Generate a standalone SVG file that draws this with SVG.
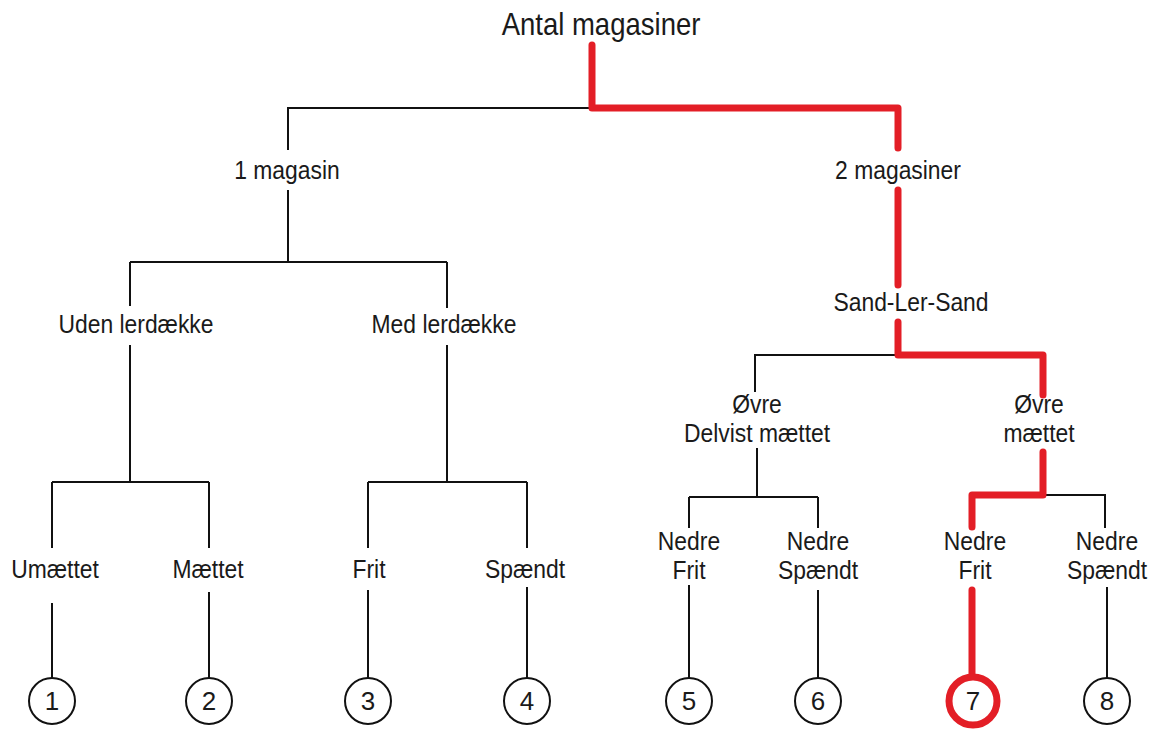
<svg xmlns="http://www.w3.org/2000/svg" width="1152" height="733" viewBox="0 0 1152 733">
<style>
text{font-family:"Liberation Sans",Arial,sans-serif;fill:#1a1a1a;text-anchor:middle}
.lbl{font-size:26px}
.num{font-size:26px}
.k{stroke:#111;stroke-width:2;fill:none}
.r{stroke:#e31e26;stroke-width:7;fill:none;stroke-linejoin:round;stroke-linecap:round}
.c{fill:#fff;stroke:#111;stroke-width:2}
</style>
<rect width="1152" height="733" fill="#fff"/>
<g id="connectors">
<path class="k" d="M592 108H288V150M288 190V262M130 262H447M130 262V306M447 262V308M130 345V482M447 345V482M52 482H209M368 482H527M52 482V548M209 482V548M368 482V548M527 482V548M52 603V678M209 592V678M368 590V678M527 587V678"/>
<path class="k" d="M898 355H755V392M757 448V497M689 497H818M689 497V528M818 497V528M1043 495H1105V528M689 585V678M818 590V678M1107 587V678"/>
<path class="r" d="M592 45V108H898V148M898 190V285M898 322V355H1043V395M1043 452V495H972V527M972 590V676"/>
</g>
<g id="root"><text transform="translate(601 35) scale(0.86 1)" style="font-size:32px">Antal magasiner</text></g>
<g id="n-1magasin"><text class="lbl" transform="translate(287 179) scale(0.88 1)">1 magasin</text></g>
<g id="n-2magasiner"><text class="lbl" transform="translate(898 179) scale(0.88 1)">2 magasiner</text></g>
<g id="n-uden"><text class="lbl" transform="translate(136 333) scale(0.88 1)">Uden lerdække</text></g>
<g id="n-med"><text class="lbl" transform="translate(444 333) scale(0.88 1)">Med lerdække</text></g>
<g id="n-sls"><text class="lbl" transform="translate(911 311) scale(0.88 1)">Sand-Ler-Sand</text></g>
<g id="n-ovre-delvist"><text class="lbl" transform="translate(757 0) scale(0.88 1)"><tspan x="0" y="413">Øvre</tspan><tspan x="0" y="442">Delvist mættet</tspan></text></g>
<g id="n-ovre-maettet"><text class="lbl" transform="translate(1039 0) scale(0.88 1)"><tspan x="0" y="413">Øvre</tspan><tspan x="0" y="442">mættet</tspan></text></g>
<g id="n-umaettet"><text class="lbl" transform="translate(55 578) scale(0.88 1)">Umættet</text></g>
<g id="n-maettet"><text class="lbl" transform="translate(208 578) scale(0.88 1)">Mættet</text></g>
<g id="n-frit"><text class="lbl" transform="translate(369 578) scale(0.88 1)">Frit</text></g>
<g id="n-spaendt"><text class="lbl" transform="translate(525 578) scale(0.88 1)">Spændt</text></g>
<g id="n-nedre-frit-1"><text class="lbl" transform="translate(689 0) scale(0.88 1)"><tspan x="0" y="550">Nedre</tspan><tspan x="0" y="579">Frit</tspan></text></g>
<g id="n-nedre-spaendt-1"><text class="lbl" transform="translate(818 0) scale(0.88 1)"><tspan x="0" y="550">Nedre</tspan><tspan x="0" y="579">Spændt</tspan></text></g>
<g id="n-nedre-frit-2"><text class="lbl" transform="translate(975 0) scale(0.88 1)"><tspan x="0" y="550">Nedre</tspan><tspan x="0" y="579">Frit</tspan></text></g>
<g id="n-nedre-spaendt-2"><text class="lbl" transform="translate(1107 0) scale(0.88 1)"><tspan x="0" y="550">Nedre</tspan><tspan x="0" y="579">Spændt</tspan></text></g>
<g id="leaf-1"><circle class="c" cx="52" cy="701" r="23"/><text class="num" x="52" y="710">1</text></g>
<g id="leaf-2"><circle class="c" cx="209" cy="701" r="23"/><text class="num" x="209" y="710">2</text></g>
<g id="leaf-3"><circle class="c" cx="368" cy="701" r="23"/><text class="num" x="368" y="710">3</text></g>
<g id="leaf-4"><circle class="c" cx="527" cy="701" r="23"/><text class="num" x="527" y="710">4</text></g>
<g id="leaf-5"><circle class="c" cx="689" cy="701" r="23"/><text class="num" x="689" y="710">5</text></g>
<g id="leaf-6"><circle class="c" cx="818" cy="701" r="23"/><text class="num" x="818" y="710">6</text></g>
<g id="leaf-7"><circle cx="973" cy="701" r="24" fill="#fff" stroke="#e31e26" stroke-width="7"/><text class="num" x="973" y="710">7</text></g>
<g id="leaf-8"><circle class="c" cx="1107" cy="701" r="23"/><text class="num" x="1107" y="710">8</text></g>
</svg>
